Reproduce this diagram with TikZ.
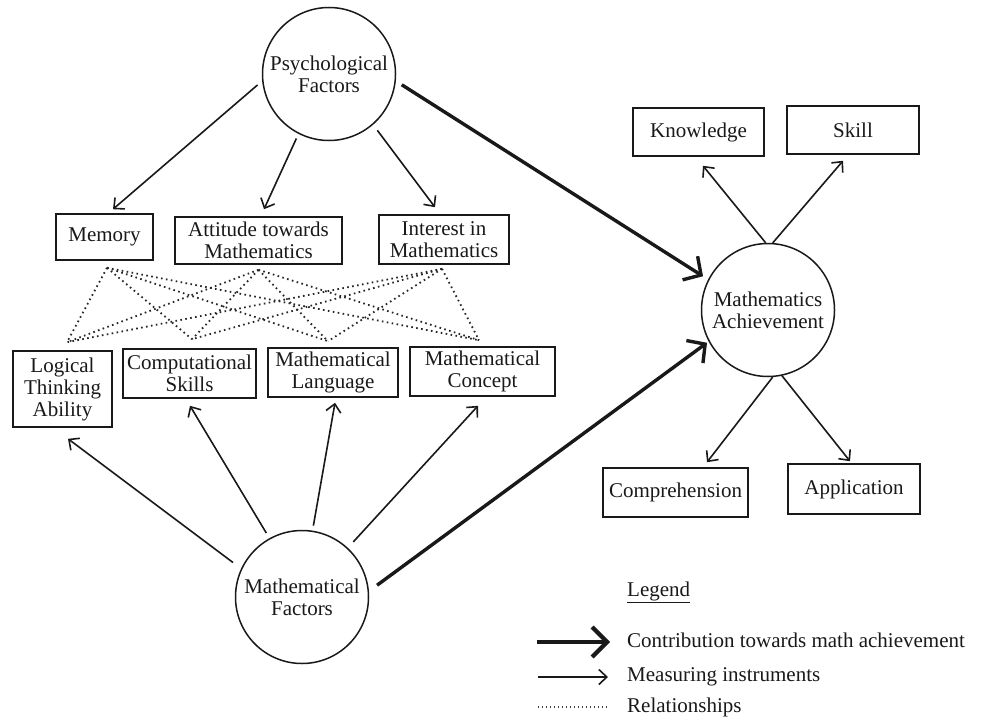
\documentclass[tikz,border=0pt]{standalone}
\usepackage{fontspec}
\setmainfont{Liberation Serif}
\usetikzlibrary{arrows.meta,calc}
\begin{document}
\begin{tikzpicture}[x=1pt,y=-1pt,
  every node/.style={font=\fontsize{21}{22}\selectfont, text=black!90},
  box/.style={draw=black!90, line width=1.6pt, rectangle, inner sep=0pt, align=center},
  fac/.style={draw=black!90, line width=1.5pt, circle, minimum size=133pt, inner sep=0pt, align=center},
  meas/.style={draw=black!90, line width=1.6pt, -{Straight Barb[length=8pt,width=15pt]}},
  contrib/.style={draw=black!90, line width=3.4pt, -{Straight Barb[length=13pt,width=28pt]}},
  rel/.style={draw=black!85, line width=1.8pt, dash pattern=on 1.6pt off 3.4pt},
]
\fill[white] (0,0) rectangle (992,717);
\useasboundingbox (0,0) rectangle (992,717);

% factor circles
\node[fac] (psy) at (329,74) {Psychological\\Factors};
\node[fac] (ach) at (768,310) {Mathematics\\Achievement};
\node[fac] (mf)  at (302,597) {Mathematical\\Factors};

% boxes
\node[box, minimum width=97pt,  minimum height=46pt] (mem)  at (104.5,237)   {Memory};
\node[box, minimum width=167pt, minimum height=47pt] (att)  at (258.5,240.5) {Attitude towards\\Mathematics};
\node[box, minimum width=130pt, minimum height=49pt] (int)  at (444,239.5)   {Interest in\\Mathematics};
\node[box, minimum width=99pt,  minimum height=76pt] (log)  at (62.5,389)    {Logical\\Thinking\\Ability};
\node[box, minimum width=133pt, minimum height=49pt] (cmpu) at (189.5,373.5) {Computational\\Skills};
\node[box, minimum width=130pt, minimum height=49pt] (lan)  at (333,372.5)   {Mathematical\\Language};
\node[box, minimum width=145pt, minimum height=49pt] (con)  at (482.5,371.5) {Mathematical\\Concept};
\node[box, minimum width=131pt, minimum height=48pt] (kno)  at (698.5,132)   {Knowledge};
\node[box, minimum width=132pt, minimum height=48pt] (ski)  at (853,130)     {Skill};
\node[box, minimum width=145pt, minimum height=49pt] (cmp)  at (675.5,492.5) {Comprehension};
\node[box, minimum width=132pt, minimum height=50pt] (app)  at (854,489)     {Application};

% psychological factors
\draw[meas, shorten <=6pt] (psy.186) -- ($(mem.north)+(8.5,-4)$);
\draw[meas, shorten <=5pt] (psy.243) -- ($(att.north)+(5.5,-7)$);
\draw[meas, shorten <=7pt] (psy.-49) -- ($(int.north)+(-9,-7)$);
\draw[contrib, shorten <=7pt, shorten >=6pt] (psy.-6) -- (ach.153);

% mathematical factors
\draw[meas, shorten <=10pt] (mf.155) -- ($(log.south)+(5.5,11)$);
\draw[meas, shorten <=6pt] (mf.119) -- ($(cmpu.south)+(0.5,7)$);
\draw[meas, shorten <=5pt] (mf.81) -- ($(lan.south)+(2,5)$);
\draw[meas, shorten <=8pt] (mf.47) -- ($(con.south)+(-4.5,9)$);
\draw[contrib, shorten <=10pt, shorten >=2pt] (mf.5) -- (ach.208);

% achievement
\draw[meas] (ach.92) -- ($(kno.south)+(4.5,9)$);
\draw[meas] (ach.86) -- ($(ski.south)+(-10,6)$);
\draw[meas] (ach.-86) -- ($(cmp.north)+(31.5,-5)$);
\draw[meas] (ach.-78) -- ($(app.north)+(-4,-2)$);

% relationships
\coordinate (memB) at ($(mem.south)+(2.5,7)$);
\coordinate (attB) at ($(att.south)+(0,5)$);
\coordinate (intB) at ($(int.south)+(-2,4)$);
\coordinate (logT) at ($(log.north)+(4.5,-8)$);
\coordinate (cmpT) at ($(cmpu.north)+(2.5,-9)$);
\coordinate (lanT) at ($(lan.north)+(-5,-6)$);
\coordinate (conT) at ($(con.north)+(-3.5,-6)$);
\foreach \a in {memB,attB,intB}
  \foreach \b in {logT,cmpT,lanT,conT}
    \draw[rel] (\a) -- (\b);

% legend
\node[anchor=west, inner sep=0pt] (leg) at (627,592) {\underline{Legend}};
\node[anchor=west, inner sep=0pt] (l1) at (627,640) {Contribution towards math achievement};
\node[anchor=west, inner sep=0pt] (l2) at (627,677) {Measuring instruments};
\node[anchor=west, inner sep=0pt] (l3) at (627,707) {Relationships};
\coordinate (l1a) at ($(l1.west)+(-90,2)$);
\coordinate (l1b) at ($(l1.west)+(-17,2)$);
\coordinate (l2a) at ($(l2.west)+(-89,0)$);
\coordinate (l2b) at ($(l2.west)+(-19,0)$);
\coordinate (l3a) at ($(l3.west)+(-89,0)$);
\coordinate (l3b) at ($(l3.west)+(-19,0)$);
\draw[draw=black!90, line width=4.2pt, -{Straight Barb[length=15pt,width=30pt]}] (l1a) -- (l1b);
\draw[meas] (l2a) -- (l2b);
\draw[draw=black!75, line width=1.3pt, dash pattern=on 1.2pt off 2.8pt] (l3a) -- (l3b);
\end{tikzpicture}
\end{document}
